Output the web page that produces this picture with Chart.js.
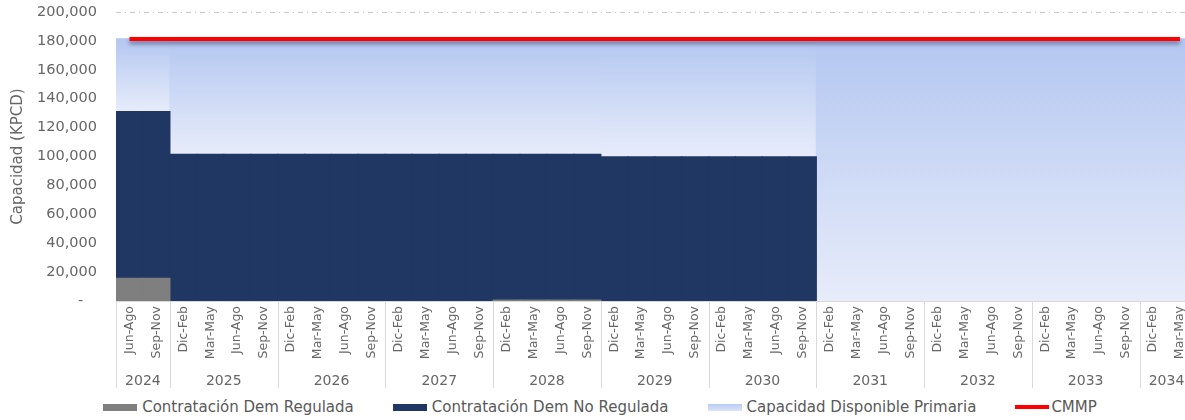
<!DOCTYPE html>
<html>
<head>
<meta charset="utf-8">
<script src="https://cdn.jsdelivr.net/npm/chart.js@4.4.0/dist/chart.umd.min.js"></script>
<style>
  html, body { margin: 0; padding: 0; background: #fff; overflow: hidden; }
  #wrap { position: relative; width: 1200px; height: 420px; }
  #legend { position: absolute; left: 0; top: 397px; width: 1200px; height: 20px;
    display: flex; justify-content: center; align-items: center;
    font: 15px 'DejaVu Sans'; color: #595959; white-space: nowrap; }
  .item { display: flex; align-items: center; margin: 0 19.5px; }
  .swatch { width: 34px; height: 7px; margin-right: 5px; }
  .swatch.line { height: 4px; margin-right: 2px; }
</style>
</head>
<body>
<div id="wrap">
  <canvas id="capacity-chart" width="1200" height="396"></canvas>
  <div id="legend"></div>
</div>
<script>
const periods = [
  'Jun-Ago', 'Sep-Nov',
  'Dic-Feb', 'Mar-May', 'Jun-Ago', 'Sep-Nov',
  'Dic-Feb', 'Mar-May', 'Jun-Ago', 'Sep-Nov',
  'Dic-Feb', 'Mar-May', 'Jun-Ago', 'Sep-Nov',
  'Dic-Feb', 'Mar-May', 'Jun-Ago', 'Sep-Nov',
  'Dic-Feb', 'Mar-May', 'Jun-Ago', 'Sep-Nov',
  'Dic-Feb', 'Mar-May', 'Jun-Ago', 'Sep-Nov',
  'Dic-Feb', 'Mar-May', 'Jun-Ago', 'Sep-Nov',
  'Dic-Feb', 'Mar-May', 'Jun-Ago', 'Sep-Nov',
  'Dic-Feb', 'Mar-May', 'Jun-Ago', 'Sep-Nov',
  'Dic-Feb', 'Mar-May'
];
const years = ['2024', '2025', '2026', '2027', '2028', '2029', '2030', '2031', '2032', '2033', '2034'];
const periodsPerYear = [2, 4, 4, 4, 4, 4, 4, 4, 4, 4, 2];

const regulada = [
  15700, 15700,
  0, 0, 0, 0,
  0, 0, 0, 0,
  0, 0, 0, 0,
  600, 600, 600, 600,
  0, 0, 0, 0,
  0, 0, 0, 0,
  0, 0, 0, 0,
  0, 0, 0, 0,
  0, 0, 0, 0,
  0, 0
];
const noRegulada = [
  115300, 115300,
  101500, 101500, 101500, 101500,
  101500, 101500, 101500, 101500,
  101500, 101500, 101500, 101500,
  100900, 100900, 100900, 100900,
  99800, 99800, 99800, 99800,
  99800, 99800, 99800, 99800,
  0, 0, 0, 0,
  0, 0, 0, 0,
  0, 0, 0, 0,
  0, 0
];
const capacidad = [
  50400, 50400,
  79900, 79900, 79900, 79900,
  79900, 79900, 79900, 79900,
  79900, 79900, 79900, 79900,
  79900, 79900, 79900, 79900,
  81600, 81600, 81600, 81600,
  81600, 81600, 81600, 81600,
  181400, 181400, 181400, 181400,
  181400, 181400, 181400, 181400,
  181400, 181400, 181400, 181400,
  181400, 181400
];
const cmmp = [
  181400, 181400,
  181400, 181400, 181400, 181400,
  181400, 181400, 181400, 181400,
  181400, 181400, 181400, 181400,
  181400, 181400, 181400, 181400,
  181400, 181400, 181400, 181400,
  181400, 181400, 181400, 181400,
  181400, 181400, 181400, 181400,
  181400, 181400, 181400, 181400,
  181400, 181400, 181400, 181400,
  181400, 181400
];

const textGray = '#666666';
Chart.defaults.font.family = "'DejaVu Sans'";
Chart.defaults.color = textGray;

// vertical gradient per bar, from top of the stack down to its base
function capacityFill(context) {
  const { chart, dataIndex } = context;
  const { ctx, chartArea, scales } = chart;
  if (!chartArea || context.type !== 'data') return '#c5d4f4';
  const base = regulada[dataIndex] + noRegulada[dataIndex];
  const top = scales.y.getPixelForValue(base + capacidad[dataIndex]);
  const bottom = scales.y.getPixelForValue(base);
  const g = ctx.createLinearGradient(0, top, 0, bottom);
  g.addColorStop(0, '#b4c7f1');
  g.addColorStop(1, '#e7ecfa');
  return g;
}

// overlap neighbouring bars a little so no seams show, but skip empty ones
const inflate = context => (context.raw ? 0.6 : 0);

const lineShadow = {
  id: 'lineShadow',
  beforeDatasetDraw(chart, args) {
    if (args.meta.type !== 'line') return;
    const ctx = chart.ctx;
    ctx.save();
    ctx.shadowColor = 'rgba(40, 50, 90, 0.55)';
    ctx.shadowBlur = 4;
    ctx.shadowOffsetY = 3;
  },
  afterDatasetDraw(chart, args) {
    if (args.meta.type !== 'line') return;
    chart.ctx.restore();
  }
};

// year row under the period labels, with separators between years
const yearAxis = {
  id: 'yearAxis',
  afterDraw(chart) {
    const { ctx, scales, chartArea } = chart;
    const x = scales.x;
    ctx.save();
    ctx.strokeStyle = '#d9d9d9';
    ctx.lineWidth = 1;
    ctx.fillStyle = textGray;
    ctx.font = "14px 'DejaVu Sans'";
    ctx.textAlign = 'center';
    ctx.textBaseline = 'middle';
    let start = 0;
    years.forEach((year, k) => {
      const end = start + periodsPerYear[k] - 1;
      const half = (x.getPixelForValue(1) - x.getPixelForValue(0)) / 2;
      const left = x.getPixelForValue(start) - half;
      const right = x.getPixelForValue(end) + half;
      ctx.beginPath();
      ctx.moveTo(Math.round(left) + 0.5, chartArea.bottom);
      ctx.lineTo(Math.round(left) + 0.5, 388);
      ctx.stroke();
      ctx.fillText(year, (left + right) / 2, 381);
      start = end + 1;
    });
    ctx.restore();
  }
};

const chart = new Chart(document.getElementById('capacity-chart'), {
  type: 'bar',
  data: {
    labels: periods,
    datasets: [
      {
        type: 'line',
        label: 'CMMP',
        data: cmmp,
        borderColor: '#ff0000',
        backgroundColor: '#ff0000',
        borderWidth: 4,
        pointRadius: 0,
        stack: 'cmmp',
        order: 0
      },
      {
        label: 'Contratación Dem Regulada',
        data: regulada,
        backgroundColor: '#7f7f7f',
        stack: 'cap',
        order: 1
      },
      {
        label: 'Contratación Dem No Regulada',
        data: noRegulada,
        backgroundColor: '#1f3762',
        stack: 'cap',
        order: 1
      },
      {
        label: 'Capacidad Disponible Primaria',
        data: capacidad,
        backgroundColor: capacityFill,
        stack: 'cap',
        order: 1
      }
    ]
  },
  options: {
    responsive: false,
    animation: false,
    devicePixelRatio: 1,
    layout: { padding: { top: 12, right: 4, left: 0, bottom: 0 } },
    datasets: {
      bar: { categoryPercentage: 1, barPercentage: 1, borderWidth: 0, inflateAmount: inflate }
    },
    plugins: {
      legend: { display: false },
      tooltip: { enabled: false }
    },
    scales: {
      x: {
        stacked: true,
        grid: { display: false, drawTicks: false },
        border: { display: true, color: '#d9d9d9' },
        ticks: {
          autoSkip: false,
          maxRotation: 90,
          minRotation: 90,
          padding: 5,
          font: { size: 12.5 }
        },
        afterFit(scale) {
          scale.height = 95;
          scale.paddingTop = 0;
          scale.paddingBottom = 0;
        }
      },
      y: {
        stacked: true,
        min: 0,
        max: 200000,
        grid: {
          color: '#c8c8c8',
          drawTicks: false
        },
        border: { display: false, dash: [5, 4, 1, 4] },
        ticks: {
          stepSize: 20000,
          padding: 19,
          font: { size: 14.5 },
          callback: v => (v === 0 ? '-   ' : v.toLocaleString('en-US'))
        },
        title: {
          display: true,
          text: 'Capacidad (KPCD)',
          font: { size: 15 },
          padding: { top: 9, bottom: 0 }
        },
        afterFit(scale) {
          scale.width = 116;
          scale.paddingTop = 0;
          scale.paddingBottom = 0;
        }
      }
    }
  },
  plugins: [lineShadow, yearAxis]
});

// legend as html, built from the chart datasets (bars first, line last)
const legend = document.getElementById('legend');
const order = [1, 2, 3, 0];
order.forEach(i => {
  const ds = chart.data.datasets[i];
  const item = document.createElement('div');
  item.className = 'item';
  const sw = document.createElement('span');
  sw.className = ds.type === 'line' ? 'swatch line' : 'swatch';
  sw.style.background = ds.type === 'line' ? ds.borderColor
    : (typeof ds.backgroundColor === 'string' ? ds.backgroundColor : 'linear-gradient(#b9cbf2, #dbe3f8)');
  const label = document.createElement('span');
  label.textContent = ds.label;
  item.appendChild(sw);
  item.appendChild(label);
  legend.appendChild(item);
});
</script>
</body>
</html>
